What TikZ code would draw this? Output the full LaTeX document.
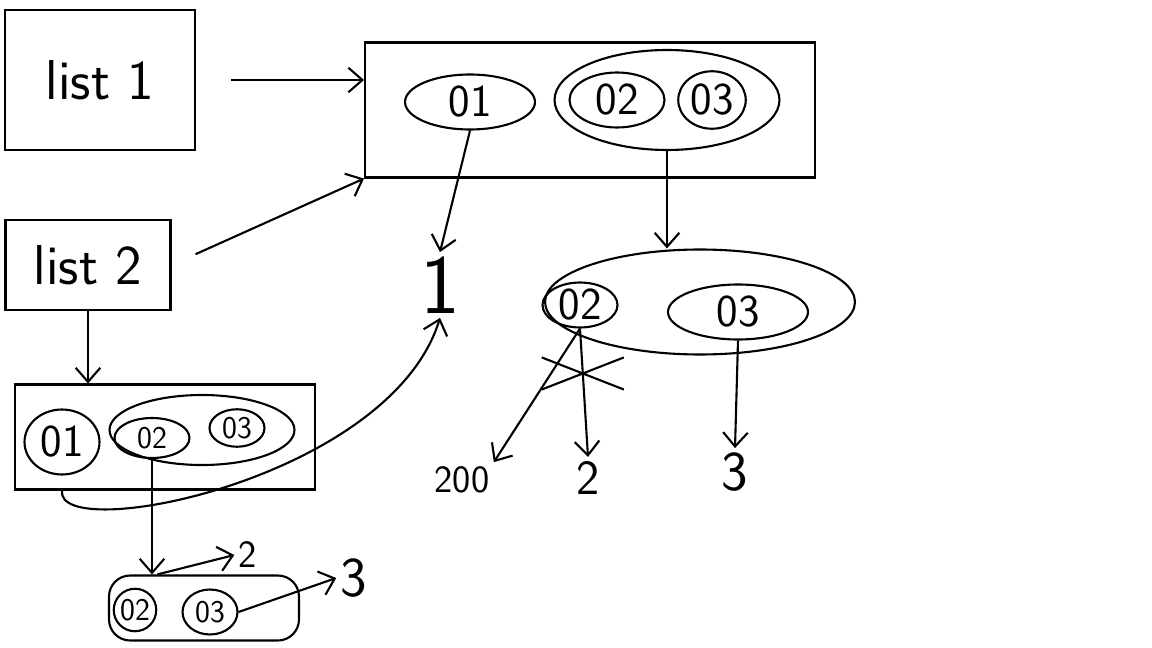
\documentclass[tikz,border=0pt]{standalone}
\usetikzlibrary{arrows.meta,shapes.geometric,shapes.misc}

\begin{document}
\begin{tikzpicture}[x=0.02cm,y=-0.02cm,line width=1.2pt,
  box/.style={draw,inner sep=0pt,font=\sffamily\fontsize{32}{38}\selectfont},
  item/.style={draw,ellipse,inner sep=0pt,font=\sffamily\fontsize{26}{30}\selectfont},
  smallitem/.style={item,font=\sffamily\fontsize{18}{22}\selectfont},
  num/.style={inner sep=2pt,font=\sffamily\fontsize{28}{32}\selectfont},
  arr/.style={-{Straight Barb[length=8pt,width=14pt]}}]
  \useasboundingbox (0,0) rectangle (1152,648);
  % the two lists
  \node[box,minimum width=3.8cm,minimum height=2.8cm] (list1) at (100,80) {list 1};
  \node[box,minimum width=3.3cm,minimum height=1.8cm] (list2) at (88,265) {list 2};
  % shared part of list 1
  \node[draw,minimum width=9cm,minimum height=2.7cm] (top) at (590,110) {};
  \node[item,minimum width=2.6cm,minimum height=1.1cm] (t1) at (470,102) {01};
  \node[draw,ellipse,minimum width=4.5cm,minimum height=2cm] (tg) at (667,100) {};
  \node[item,minimum width=1.9cm,minimum height=1.1cm] (t2) at (617,100) {02};
  \node[item,minimum width=1.35cm,minimum height=1.15cm] (t3) at (712,100) {03};
  \node[num,font=\sffamily\fontsize{48}{54}\selectfont] (one) at (440,285) {1};
  % rest after 01
  \node[draw,ellipse,minimum width=6.2cm,minimum height=2.1cm] (mid) at (700,302) {};
  \node[item,minimum width=1.5cm,minimum height=0.9cm] (m2) at (580,305) {02};
  \node[item,minimum width=2.8cm,minimum height=1.1cm] (m3) at (738,312) {03};
  \node[num,font=\sffamily\fontsize{22}{26}\selectfont] (n200) at (462,480) {200};
  \node[num] (n2) at (588,478) {2};
  \node[num,font=\sffamily\fontsize{32}{36}\selectfont] (n3) at (735,472) {3};
  % list 2
  \node[draw,minimum width=6cm,minimum height=2.1cm] (bl) at (165,437) {};
  \node[item,minimum width=1.5cm,minimum height=1.3cm] (b1) at (62,442) {01};
  \node[draw,ellipse,minimum width=3.7cm,minimum height=1.4cm] (bg) at (202,430) {};
  \node[smallitem,minimum width=1.5cm,minimum height=0.8cm] (b2) at (152,438) {02};
  \node[smallitem,minimum width=1.1cm,minimum height=0.75cm] (b3) at (237,428) {03};
  \node[draw,rounded corners=12pt,minimum width=3.8cm,minimum height=1.3cm] (bot) at (204,608) {};
  \node[smallitem,minimum width=0.85cm,minimum height=0.85cm] (c2) at (135,610) {02};
  \node[smallitem,minimum width=1.1cm,minimum height=0.9cm] (c3) at (210,612) {03};
  \node[num,font=\sffamily\fontsize{22}{26}\selectfont] (s2) at (248,555) {2};
  \node[num,font=\sffamily\fontsize{32}{36}\selectfont] (s3) at (354,578) {3};

  \draw[arr,shorten <=20pt] (list1.east) -- (list1.east -| top.west);
  \draw[arr,shorten <=15pt] (list2.east) -- (top.south west);
  \draw[arr] (t1.south) -- (one.north);
  \draw[arr] (tg.south) -- (tg.south |- mid.north);
  \draw[arr] (m2.south) -- (n200.north east);
  \draw[arr] (m2.south) -- node[cross out,draw,pos=.35,inner sep=0pt,
    minimum width=1.6cm,minimum height=0.6cm] (no) {} (n2.north);
  \draw[arr] (m3.south) -- (n3.north);
  \draw[arr] (list2.south) -- (list2.south |- bl.north);
  \draw[arr] (bl.south -| b1.south) .. controls (55,545) and (390,480) .. (one.south);
  \draw[arr] (b2.south) -- (b2.south |- bot.north);
  \draw[arr] (bot.north -| c2.east) -- (s2.west);
  \draw[arr] (c3.east) -- (s3.west);
\end{tikzpicture}
\end{document}
